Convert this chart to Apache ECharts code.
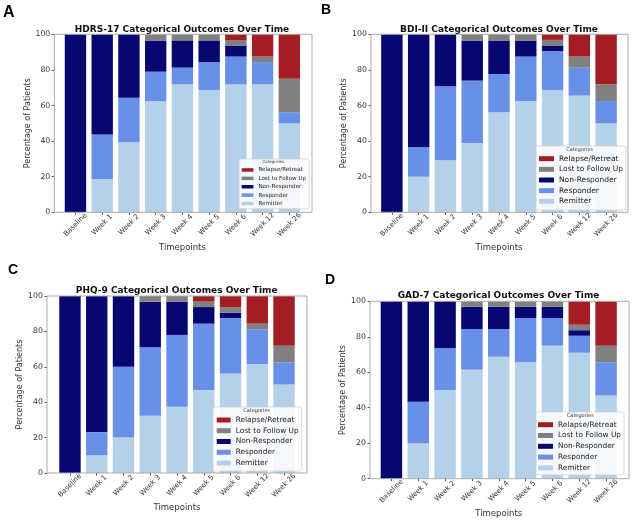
<!DOCTYPE html>
<html>
<head>
<meta charset="utf-8">
<script src="https://cdn.jsdelivr.net/npm/echarts@6/dist/echarts.min.js"></script>
<style>
html,body{margin:0;padding:0;background:#fff;}
#chart{width:636px;height:523px;}
</style>
</head>
<body>
<div id="chart"></div>
<script>
// ---------- DATA ----------
const categories = ['Baseline','Week 1','Week 2','Week 3','Week 4','Week 5','Week 6','Week 12','Week 26'];
const seriesNames = ['Remitter','Responder','Non-Responder','Lost to Follow Up','Relapse/Retreat'];
const legendOrder = ['Relapse/Retreat','Lost to Follow Up','Non-Responder','Responder','Remitter'];
const panelTitles = ['HDRS-17 Categorical Outcomes Over Time','BDI-II Categorical Outcomes Over Time','PHQ-9 Categorical Outcomes Over Time','GAD-7 Categorical Outcomes Over Time'];
const panelLetters = ['A','B','C','D'];

const hdrsRemitter      = [0, 18.75, 39.4, 62.5, 71.9, 68.75, 71.9, 71.9, 50];
const hdrsResponder     = [0, 25, 25, 16.5, 9.4, 15.6, 15.6, 12.5, 6.25];
const hdrsNonResponder  = [100, 56.25, 35.6, 17.5, 15.3, 12.2, 6.2, 0, 0];
const hdrsLost          = [0, 0, 0, 3.5, 3.4, 3.45, 3.1, 3.1, 18.75];
const hdrsRelapse       = [0, 0, 0, 0, 0, 0, 3.2, 12.5, 25];

const bdiRemitter       = [0, 20, 29.2, 38.9, 56.2, 62.5, 68.75, 65.6, 50];
const bdiResponder      = [0, 16.5, 41.6, 35.1, 21.5, 25, 21.85, 15.65, 12.5];
const bdiNonResponder   = [100, 63.5, 29.2, 22.5, 18.8, 9, 3.15, 0, 0];
const bdiLost           = [0, 0, 0, 3.5, 3.5, 3.5, 3.1, 6.25, 9.4];
const bdiRelapse        = [0, 0, 0, 0, 0, 0, 3.15, 12.5, 28.1];

const phqRemitter       = [0, 10, 20, 32.3, 37.5, 46.9, 56.25, 61.5, 50];
const phqResponder      = [0, 13.1, 40, 38.7, 40.5, 37.5, 31.25, 19.75, 12.5];
const phqNonResponder   = [100, 76.9, 40, 25.8, 18.8, 9.35, 3.1, 0, 0];
const phqLost           = [0, 0, 0, 3.2, 3.2, 3.1, 3.1, 3.15, 9.4];
const phqRelapse        = [0, 0, 0, 0, 0, 3.15, 6.3, 15.6, 28.1];

const gadRemitter       = [0, 20, 50, 61.5, 68.75, 65.6, 75, 71, 46.9];
const gadResponder      = [0, 23.4, 23.5, 22.9, 15.65, 25, 15.6, 9.6, 18.7];
const gadNonResponder   = [100, 56.6, 26.5, 12.5, 12.5, 6.3, 6.3, 3.1, 0];
const gadLost           = [0, 0, 0, 3.1, 3.1, 3.1, 3.1, 3.1, 9.4];
const gadRelapse        = [0, 0, 0, 0, 0, 0, 0, 13.2, 25];

const panelData = [
  [hdrsRemitter, hdrsResponder, hdrsNonResponder, hdrsLost, hdrsRelapse],
  [bdiRemitter, bdiResponder, bdiNonResponder, bdiLost, bdiRelapse],
  [phqRemitter, phqResponder, phqNonResponder, phqLost, phqRelapse],
  [gadRemitter, gadResponder, gadNonResponder, gadLost, gadRelapse]
];

// ---------- STYLE / LAYOUT ----------
const colors = {
  'Remitter': '#b5d1ea',
  'Responder': '#6890e6',
  'Non-Responder': '#070772',
  'Lost to Follow Up': '#808080',
  'Relapse/Retreat': '#a31d23'
};
const FONT = 'DejaVu Sans';
const layout = [
  { grid:{left:62.1, top:34.3, width:240.6, height:178}, frame:[54.3,34.3,257.7,178], yOffset:7.8, yNameGap:19.5, xNameGap:31,
    title:[182,25], letter:[3,5,16],
    legend:{left:239, top:159, padding:[7.7,3,2,2.7], itemWidth:11.7, itemHeight:3.5, fontSize:5.6, lineHeight:6.5, itemGap:1.9},
    cat:[273.3,162.3,4] },
  { grid:{left:378.5, top:34.3, width:241, height:178}, frame:[371,34.3,257,178], yOffset:7.5, yNameGap:21.5, xNameGap:31,
    title:[499,25], letter:[321,3,14],
    legend:{left:536, top:146, padding:[8.2,3,4.2,3], itemWidth:15, itemHeight:5, fontSize:7.5, lineHeight:9, itemGap:1.65},
    cat:[579.7,150,5] },
  { grid:{left:56.6, top:296, width:240.8, height:177}, frame:[47,296,260,177], yOffset:9.6, yNameGap:19, xNameGap:30.5,
    title:[176.7,286.4], letter:[8,263,14],
    legend:{left:213, top:407, padding:[8.5,3,3.5,3.7], itemWidth:14, itemHeight:5, fontSize:7.4, lineHeight:9, itemGap:1.75},
    cat:[256.7,410.7,5] },
  { grid:{left:378, top:301.3, width:241.5, height:177.4}, frame:[370,301.3,259,177.4], yOffset:8, yNameGap:21, xNameGap:31,
    title:[498.5,290.7], letter:[325,273,14],
    legend:{left:536, top:412, padding:[8.2,3,2.5,2], itemWidth:15, itemHeight:5, fontSize:7.4, lineHeight:9, itemGap:1.8},
    cat:[580.3,415.3,5] }
];

const grids = [], xAxes = [], yAxes = [], series = [], legends = [], titles = [], graphics = [];

layout.forEach((L, p) => {
  grids.push(Object.assign({containLabel:false, outerBoundsMode:'none', show:false}, L.grid));
  xAxes.push({
    type:'category', gridIndex:p, data:categories, boundaryGap:true,
    name:'Timepoints', nameLocation:'middle', nameGap:L.xNameGap,
    nameTextStyle:{fontFamily:FONT, fontSize:8.5, color:'#333'},
    axisLine:{show:false},
    axisTick:{show:true, alignWithLabel:true, length:2.5, lineStyle:{color:'#555'}},
    axisLabel:{rotate:45, interval:0, margin:12.5, align:'center', verticalAlign:'middle',
               fontFamily:FONT, fontSize:7, color:'#333'},
    splitLine:{show:false}
  });
  yAxes.push({
    type:'value', gridIndex:p, min:0, max:100, interval:20, offset:L.yOffset,
    name:'Percentage of Patients', nameLocation:'middle', nameGap:L.yNameGap, nameRotate:90,
    nameTextStyle:{fontFamily:FONT, fontSize:8, color:'#333'},
    axisLine:{show:false},
    axisTick:{show:true, length:2.5, lineStyle:{color:'#555'}},
    axisLabel:{margin:4, fontFamily:FONT, fontSize:7.8, color:'#333'},
    splitLine:{show:false}
  });
  seriesNames.forEach((nm, k) => {
    series.push({
      type:'bar', name:nm, stack:'panel'+p, xAxisIndex:p, yAxisIndex:p,
      data: panelData[p][k], barWidth:'80%',
      itemStyle:{color:colors[nm]},
      emphasis:{disabled:true}, animation:false
    });
  });
  legends.push({
    orient:'vertical', left:L.legend.left, top:L.legend.top, padding:L.legend.padding,
    itemWidth:L.legend.itemWidth, itemHeight:L.legend.itemHeight, itemGap:L.legend.itemGap,
    icon:'rect', data:legendOrder, selectedMode:false,
    backgroundColor:'rgba(255,255,255,0.85)', borderColor:'#d0d0d0', borderWidth:0.8, borderRadius:2,
    textStyle:{fontFamily:FONT, fontSize:L.legend.fontSize, lineHeight:L.legend.lineHeight, color:'#222', padding:0}
  });
  titles.push({
    text:panelTitles[p], left:L.title[0], top:L.title[1], textAlign:'center', padding:0,
    textStyle:{fontFamily:FONT, fontWeight:'bold', fontSize:9, color:'#111'}
  });
  titles.push({
    text:panelLetters[p], left:L.letter[0], top:L.letter[1], padding:0,
    textStyle:{fontFamily:'Liberation Sans', fontWeight:'bold', fontSize:L.letter[2], color:'#000'}
  });
  graphics.push({
    type:'rect', z:5, silent:true,
    shape:{x:L.frame[0], y:L.frame[1], width:L.frame[2], height:L.frame[3]},
    style:{fill:null, stroke:'#aaaaaa', lineWidth:1}
  });
  graphics.push({
    type:'text', z:20, silent:true, x:L.cat[0], y:L.cat[1],
    style:{text:'Categories', fontFamily:FONT, fontSize:L.cat[2], fill:'#333', align:'center', verticalAlign:'middle'}
  });
});

const chart = echarts.init(document.getElementById('chart'), null, {renderer:'canvas'});
chart.setOption({
  animation:false,
  backgroundColor:'#fff',
  title: titles,
  grid: grids,
  xAxis: xAxes,
  yAxis: yAxes,
  legend: legends,
  series: series,
  graphic: graphics
});
</script>
</body>
</html>
